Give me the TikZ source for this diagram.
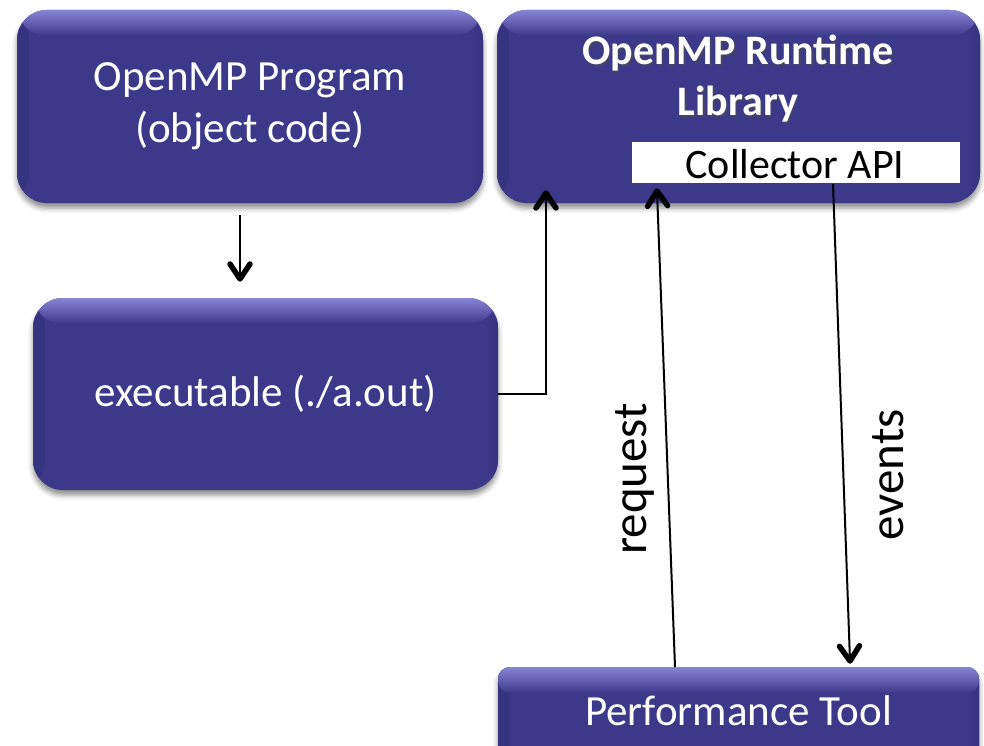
\documentclass[tikz,border=0pt]{standalone}
\usepackage{fontspec}
\setmainfont{Carlito}
\usetikzlibrary{calc,shadows.blur}
\definecolor{boxbase}{RGB}{60,56,138}
\definecolor{boxtop}{RGB}{136,132,214}
\definecolor{boxedge}{RGB}{54,51,128}
\tikzset{
  panel/.style={
    rounded corners=#1, fill=boxbase, draw=none,
    blur shadow={shadow xshift=0pt, shadow yshift=-5pt, shadow blur radius=5pt, shadow opacity=45},
    text=white, align=center, inner sep=0pt,
    path picture={
      \shade[left color=boxedge, right color=boxbase]
        (path picture bounding box.north west) rectangle ([xshift=12pt]path picture bounding box.south west);
      \shade[right color=boxedge, left color=boxbase]
        (path picture bounding box.north east) rectangle ([xshift=-12pt]path picture bounding box.south east);
      \shade[top color=boxtop, bottom color=boxbase]
        (path picture bounding box.north west) rectangle ([yshift=-26pt]path picture bounding box.north east);
    }},
  panel/.default=30pt,
  txt/.style={font=\fontsize{43}{52}\selectfont},
  lbl/.style={font=\fontsize{49}{55}\selectfont},
  link/.style={draw=black, line width=2pt},
  veestroke/.style={draw=black, line width=5.5pt, line cap=round, line join=round}
}
% open V head at #2, pointing away from #1
\newcommand{\veehead}[2]{%
  \coordinate (hb) at ($(#2)!15pt!(#1)$);
  \draw[veestroke] ($(hb)!10pt!90:(#2)$) -- (#2) -- ($(hb)!10pt!-90:(#2)$);
}
\begin{document}
\begin{tikzpicture}[x=1pt, y=-1pt]
  \useasboundingbox (0,0) rectangle (984,746);

  % boxes
  \node[panel, minimum width=466pt, minimum height=193pt, txt] (prog) at (250,106.5)
    {OpenMP Program\\(object code)};
  \node[panel, minimum width=483pt, minimum height=193pt] (rtl) at (738.5,106.5) {};
  \node[panel, minimum width=465pt, minimum height=192pt, txt] (exec) at (265.5,394)
    {executable (./a.out)};
  \node[panel=12pt, minimum width=481pt, minimum height=94pt] (tool) at (738.5,714) {};
  \node[txt, text=white, anchor=center] (tooltxt) at (738.5,711) {Performance Tool};

  % runtime title with a soft shadow
  \node[font=\fontsize{42}{51}\selectfont\bfseries, text=black!70, opacity=0.6, align=center] (rtlshadow)
    at (739.5,80.5) {OpenMP Runtime\\Library};
  \node[font=\fontsize{42}{51}\selectfont\bfseries, text=white, align=center] (rtltitle)
    at (738,79) {OpenMP Runtime\\Library};

  % collector api
  \node[fill=white, minimum width=328pt, minimum height=41pt, inner sep=0pt] (api) at (796,162.5) {};
  \node[font=\fontsize{42}{48}\selectfont, text=black] (apitxt) at (795,164) {Collector API};

  % connectors
  \coordinate (p1) at (240,215);
  \coordinate (p2) at (240,279);
  \draw[link] (p1) -- (p2);
  \veehead{p1}{p2}

  \coordinate (bend) at (546,394);
  \coordinate (rtlin) at (546,193);
  \draw[link] (exec.east |- bend) -- (bend) -- (rtlin);
  \veehead{bend}{rtlin}

  \coordinate (reqfrom) at (675,667);
  \coordinate (reqto) at (657,191);
  \draw[link] (reqfrom) -- (reqto);
  \veehead{reqfrom}{reqto}

  \coordinate (evfrom) at (833,184);
  \coordinate (evto) at (850,661);
  \draw[link] (evfrom) -- (evto);
  \veehead{evfrom}{evto}

  % connector labels
  \node[rotate=90, lbl] (req) at (635,479) {request};
  \node[rotate=90, lbl] (ev) at (888,475) {events};
\end{tikzpicture}
\end{document}
